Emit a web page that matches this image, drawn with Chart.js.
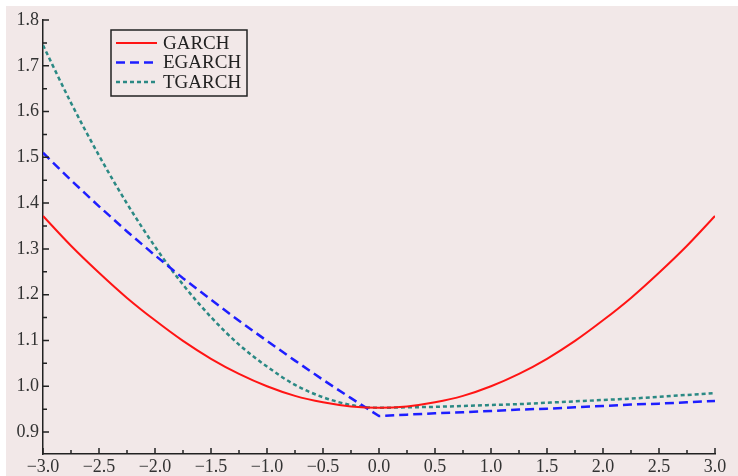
<!DOCTYPE html>
<html>
<head>
<meta charset="utf-8">
<script src="https://cdn.jsdelivr.net/npm/chart.js@4.4.0/dist/chart.umd.min.js"></script>
<style>
  html, body { margin: 0; padding: 0; background: #fff; }
  canvas { display: block; }
</style>
</head>
<body>
<canvas id="nic" width="738" height="476"></canvas>
<script>
// shock values (x) and the three news impact curves
const shocks = [-3, -2.75, -2.5, -2.25, -2, -1.75, -1.5, -1.25, -1, -0.75, -0.5, -0.25, 0,
                0.25, 0.5, 0.75, 1, 1.25, 1.5, 1.75, 2, 2.25, 2.5, 2.75, 3];
const garch = [1.372, 1.307, 1.248, 1.193, 1.144, 1.099, 1.060, 1.027, 1.000, 0.979, 0.965, 0.956, 0.953,
               0.956, 0.965, 0.979, 1.000, 1.027, 1.060, 1.099, 1.144, 1.193, 1.248, 1.307, 1.372];
const egarch = [1.510, 1.450, 1.393, 1.338, 1.286, 1.236, 1.189, 1.143, 1.099, 1.056, 1.014, 0.974, 0.935,
                0.938, 0.941, 0.943, 0.946, 0.949, 0.951, 0.954, 0.957, 0.960, 0.962, 0.965, 0.968];
const tgarch = [1.745, 1.619, 1.504, 1.399, 1.305, 1.222, 1.151, 1.091, 1.043, 1.003, 0.976, 0.959, 0.953,
                0.954, 0.955, 0.957, 0.959, 0.961, 0.964, 0.967, 0.970, 0.973, 0.977, 0.981, 0.985];
const seriesNames = ['GARCH', 'EGARCH', 'TGARCH'];

const xMajor = [-3, -2.5, -2, -1.5, -1, -0.5, 0, 0.5, 1, 1.5, 2, 2.5, 3];
const xMinor = [-2.75, -2.25, -1.75, -1.25, -0.75, -0.25, 0.25, 0.75, 1.25, 1.75, 2.25, 2.75];
const yMajor = [0.9, 1.0, 1.1, 1.2, 1.3, 1.4, 1.5, 1.6, 1.7, 1.8];
const yMinor = [0.95, 1.05, 1.15, 1.25, 1.35, 1.45, 1.55, 1.65, 1.75];

const SERIF = '"Liberation Serif", "DejaVu Serif", serif';
Chart.defaults.font.family = SERIF;

const toPoints = vals => shocks.map((x, i) => ({ x: x, y: vals[i] }));
const fmtX = v => (v < 0 ? '\u2212' : '') + Math.abs(v).toFixed(1);

const pageBackground = {
    id: 'pageBackground',
    beforeDraw(chart) {
        const ctx = chart.ctx;
        ctx.save();
        ctx.fillStyle = '#ffffff';
        ctx.fillRect(0, 0, chart.width, chart.height);
        ctx.fillStyle = '#f2e8e8';
        ctx.fillRect(6, 6, chart.width - 6, chart.height - 6);
        ctx.restore();
    }
};

// inward major/minor tick marks
const innerTicks = {
    id: 'innerTicks',
    afterDraw(chart) {
        const { ctx, scales: { x, y } } = chart;
        const left = chart.chartArea.left, bottom = chart.chartArea.bottom;
        ctx.save();
        ctx.strokeStyle = '#222';
        ctx.lineWidth = 1.5;
        ctx.beginPath();
        xMajor.forEach(v => { const p = x.getPixelForValue(v); ctx.moveTo(p, bottom); ctx.lineTo(p, bottom - 6); });
        xMinor.forEach(v => { const p = x.getPixelForValue(v); ctx.moveTo(p, bottom); ctx.lineTo(p, bottom - 4); });
        yMajor.forEach(v => { const p = y.getPixelForValue(v); ctx.moveTo(left, p); ctx.lineTo(left + 6, p); });
        yMinor.forEach(v => { const p = y.getPixelForValue(v); ctx.moveTo(left, p); ctx.lineTo(left + 4, p); });
        ctx.stroke();
        ctx.restore();
    }
};

// boxed legend in the upper left of the plot
const boxLegend = {
    id: 'boxLegend',
    afterDraw(chart) {
        const ctx = chart.ctx;
        const bx = 111, by = 30, bw = 136, bh = 66;
        ctx.save();
        ctx.strokeStyle = '#222';
        ctx.lineWidth = 1.5;
        ctx.strokeRect(bx, by, bw, bh);
        ctx.font = '19px ' + SERIF;
        ctx.textBaseline = 'middle';
        ctx.fillStyle = '#222';
        chart.data.datasets.forEach((ds, i) => {
            const ly = by + 13 + i * 19.5;
            ctx.strokeStyle = ds.borderColor;
            ctx.lineWidth = ds.borderWidth;
            ctx.setLineDash(ds.borderDash || []);
            ctx.beginPath();
            ctx.moveTo(bx + 5, ly);
            ctx.lineTo(bx + 46, ly);
            ctx.stroke();
            ctx.setLineDash([]);
            ctx.fillText(ds.label, bx + 52, ly + 1);
        });
        ctx.restore();
    }
};

const lineStyle = { pointRadius: 0, fill: false };

new Chart(document.getElementById('nic'), {
    type: 'line',
    data: {
        datasets: [
            { ...lineStyle, label: seriesNames[0], data: toPoints(garch), borderColor: '#ff1414',
              borderWidth: 2, borderDash: [], cubicInterpolationMode: 'monotone' },
            { ...lineStyle, label: seriesNames[1], data: toPoints(egarch), borderColor: '#1e1eff',
              borderWidth: 2.5, borderDash: [9, 5], tension: 0 },
            { ...lineStyle, label: seriesNames[2], data: toPoints(tgarch), borderColor: '#2b8984',
              borderWidth: 2.5, borderDash: [4, 3], cubicInterpolationMode: 'monotone' }
        ]
    },
    options: {
        responsive: false,
        animation: false,
        layout: { padding: { top: 20, right: 23, left: 0, bottom: 0 } },
        plugins: { legend: { display: false }, tooltip: { enabled: false } },
        scales: {
            x: {
                type: 'linear',
                min: -3,
                max: 3,
                afterBuildTicks: s => { s.ticks = xMajor.map(v => ({ value: v })); },
                afterFit: s => { s.height = 22; },
                ticks: { callback: v => fmtX(v), color: '#333', font: { size: 18 }, padding: 2,
                         maxRotation: 0, autoSkip: false },
                grid: { display: false, drawTicks: false },
                border: { display: true, color: '#222', width: 1.5 }
            },
            y: {
                type: 'linear',
                min: 0.852,
                max: 1.8,
                afterBuildTicks: s => { s.ticks = yMajor.map(v => ({ value: v })); },
                afterFit: s => { s.width = 43; },
                ticks: { callback: v => v.toFixed(1), color: '#333', font: { size: 18 }, padding: 4,
                         autoSkip: false },
                grid: { display: false, drawTicks: false },
                border: { display: true, color: '#222', width: 1.5 }
            }
        }
    },
    plugins: [pageBackground, innerTicks, boxLegend]
});
</script>
</body>
</html>
